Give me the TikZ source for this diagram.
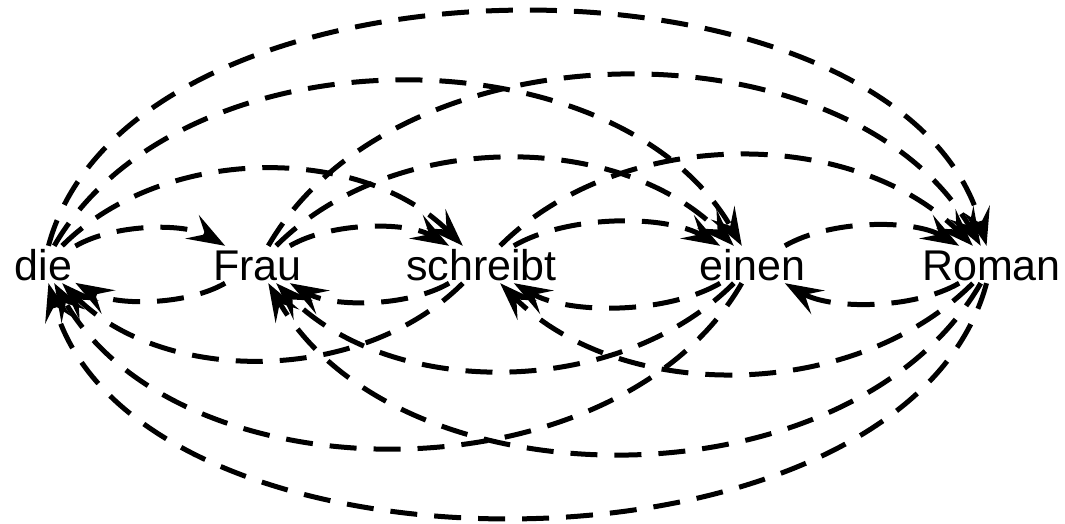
\documentclass[tikz,border=0pt]{standalone}
\usepackage{fontspec}
\setmainfont{Liberation Sans}
\usetikzlibrary{arrows.meta}
\begin{document}
\begin{tikzpicture}[x=1pt,y=1pt,
  word/.style={font=\fontsize{43}{50}\selectfont, inner sep=3pt, text height=31pt, text depth=0pt},
  dep/.style={line width=5pt, dash pattern=on 27pt off 17pt,
    -{Stealth[length=38pt,width=27pt,inset=15pt]}},
  dA/.style={dep, bend left=30, looseness=0.78},
  dB/.style={dep, bend left=45, looseness=0.92},
  dC/.style={dep, bend left=60, looseness=0.94},
  dD/.style={dep, bend left=75, looseness=0.88}]
\useasboundingbox (0,0) rectangle (1065,523);
\node[word] (die) at (43.5,258.5) {die};
\node[word] (Frau) at (257.5,258.5) {Frau};
\node[word] (schreibt) at (481.5,258.5) {schreibt};
\node[word] (einen) at (752.5,258.5) {einen};
\node[word] (Roman) at (991.5,258.5) {Roman};
% forward (above)
\draw[dA] (die) to (Frau);
\draw[dA] (Frau) to (schreibt);
\draw[dA] (schreibt) to (einen);
\draw[dA] (einen) to (Roman);
\draw[dB] (die) to (schreibt);
\draw[dB] (Frau) to (einen);
\draw[dB] (schreibt) to (Roman);
\draw[dC] (die) to (einen);
\draw[dC] (Frau) to (Roman);
\draw[dD] (die) to (Roman);
% backward (below)
\draw[dA] (Frau) to (die);
\draw[dA] (schreibt) to (Frau);
\draw[dA] (einen) to (schreibt);
\draw[dA] (Roman) to (einen);
\draw[dB] (schreibt) to (die);
\draw[dB] (einen) to (Frau);
\draw[dB] (Roman) to (schreibt);
\draw[dC] (einen) to (die);
\draw[dC] (Roman) to (Frau);
\draw[dD] (Roman) to (die);
\end{tikzpicture}
\end{document}
